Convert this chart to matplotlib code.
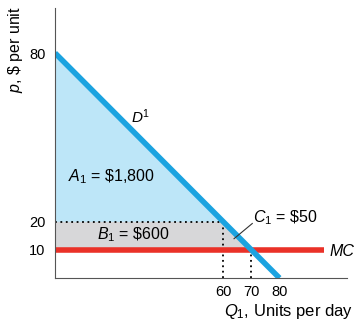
import matplotlib.pyplot as plt

plt.rcParams['font.family'] = ['Liberation Sans', 'DejaVu Sans']
plt.rcParams['mathtext.fontset'] = 'custom'
plt.rcParams['mathtext.rm'] = 'Liberation Sans'
plt.rcParams['mathtext.it'] = 'Liberation Sans:italic'

# demand P = 80 - Q, marginal cost = 10
demand_q = [0, 80]
demand_p = [80, 0]
mc_q = [0, 96]
mc_p = [10, 10]
q_monopoly = 60
q_comp = 70
p_monopoly = 20
mc_level = 10
yticks = [10, 20, 80]
xticks = [60, 70, 80]

blue = '#1ba3e0'
fill_blue = '#bde6f8'
gray = '#d7d7d9'
red = '#ea3128'

fig = plt.figure(figsize=(3.55, 3.2), dpi=100)
ax = fig.add_axes([0.155, 0.131, 0.822, 0.844])

# A1 area
ax.fill([0, 0, q_monopoly], [demand_p[0], p_monopoly, p_monopoly], color=fill_blue, lw=0)
# B1 + C1 area
ax.fill([0, q_monopoly, q_monopoly, q_comp, 0],
        [p_monopoly, p_monopoly, p_monopoly, mc_level, mc_level], color=gray, lw=0)

ax.plot([0, q_monopoly], [p_monopoly, p_monopoly], color='black', ls=(0, (1, 2)), lw=1.3)
ax.plot([q_monopoly, q_monopoly], [0, p_monopoly], color='black', ls=(0, (1, 2)), lw=1.3)
ax.plot([q_comp, q_comp], [0, mc_level], color='black', ls=(0, (1, 2)), lw=1.3)

ax.plot(mc_q, mc_p, color=red, lw=4, solid_capstyle='butt')
ax.plot(demand_q, demand_p, color=blue, lw=4, solid_capstyle='butt')

ax.set_xlim(0, 104)
ax.set_ylim(0, 96)
ax.spines['top'].set_visible(False)
ax.spines['right'].set_visible(False)
ax.spines['left'].set_color('#555555')
ax.spines['bottom'].set_color('#555555')
ax.set_xticks(xticks)
ax.set_yticks(yticks)
ax.tick_params(axis='x', length=0, labelsize=10.5, pad=5)
ax.tick_params(axis='y', length=0, labelsize=10.5, pad=7)

ax.text(27, 55, '$D^1$', fontsize=11)
ax.text(4.5, 36, '$A_1$ = \\$1,800', fontsize=11.5, va='center')
ax.text(15, 15.5, '$B_1$ = \\$600', fontsize=11.5, va='center')
ax.text(70.5, 21.5, '$C_1$ = \\$50', fontsize=11.5, va='center')
ax.plot([70.3, 63.8], [19.4, 14], color='#333333', lw=0.8)
ax.text(98, 9.6, 'MC', fontsize=11.5, style='italic', va='center')

fig.text(0.993, 0.012, '$Q_1$, Units per day', fontsize=12, ha='right')
fig.text(0.045, 0.845, '$p$, \\$ per unit', fontsize=11.5, rotation=90, ha='center', va='center')

fig.savefig('out.png', dpi=100)
